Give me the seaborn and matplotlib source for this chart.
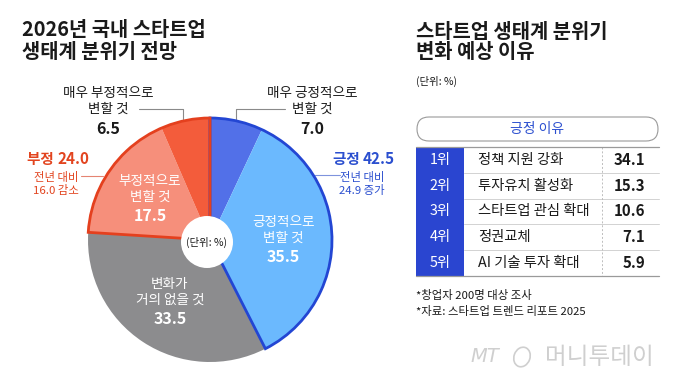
import matplotlib
matplotlib.use("Agg")
import matplotlib.pyplot as plt
import seaborn as sns
import numpy as np
from matplotlib.patches import Rectangle, FancyBboxPatch, Circle, Ellipse

sns.set_theme(style="white")
plt.rcParams['font.family'] = ['Noto Sans CJK KR', 'DejaVu Sans']

# ---- data ----
pie_labels = ['매우 긍정적으로\n변할 것', '긍정적으로\n변할 것', '변화가\n거의 없을 것',
              '부정적으로\n변할 것', '매우 부정적으로\n변할 것']
pie_values = [7.0, 35.5, 33.5, 17.5, 6.5]
group_names = ['긍정', '변화 없음', '부정']
group_values = [42.5, 33.5, 24.0]
group_change = ['24.9 증가', '', '16.0 감소']
ranks = ['1위', '2위', '3위', '4위', '5위']
reasons = ['정책 지원 강화', '투자유치 활성화', '스타트업 관심 확대', '정권교체', 'AI 기술 투자 확대']
reason_values = [34.1, 15.3, 10.6, 7.1, 5.9]

# ---- style ----
pie_colors = ['#5270E8', '#6BB9FE', '#8C8C8E', '#F68F7B', '#F35C3B']
BLUE_OUT = '#2346D3'
RED_OUT = '#E4401E'
TABLE_BLUE = '#2A45D0'
DARK = '#1a1a1a'
MW = 'medium'

W, H = 680, 385
fig = plt.figure(figsize=(6.8, 3.85), dpi=100)
ax = fig.add_axes([0, 0, 1, 1])

def Y(y):
    return H - y

cx, cy, R = 210, Y(240), 122

wedges, _ = ax.pie(pie_values, colors=pie_colors, startangle=90, counterclock=False,
                   center=(cx, cy), radius=R, wedgeprops=dict(linewidth=0))

gw, _ = ax.pie(group_values, colors=['none'] * 3, startangle=90, counterclock=False,
               center=(cx, cy), radius=R, wedgeprops=dict(linewidth=2.0, fill=False))
gw[0].set_edgecolor(BLUE_OUT); gw[0].set_zorder(3)
gw[1].set_visible(False)
gw[2].set_edgecolor(RED_OUT); gw[2].set_zorder(4)
for w in gw:
    w.set_joinstyle('miter')

# hole
ax.add_patch(Circle((207, Y(242)), 26, facecolor='white', edgecolor='none', zorder=6))
ax.text(207, Y(242), '(단위: %)', ha='center', va='center', fontsize=7.5, color=DARK,
        fontweight=MW, zorder=7)

# inner labels for wedges 1..3
for i in [1, 2, 3]:
    w = wedges[i]
    mid = np.deg2rad((w.theta1 + w.theta2) / 2)
    x = cx + 0.6 * R * np.cos(mid)
    y = cy + 0.6 * R * np.sin(mid)
    ax.text(x, y + 9, pie_labels[i], ha='center', va='center', fontsize=9.8,
            color='white', linespacing=1.15, fontweight=MW, zorder=5)
    ax.text(x, y - 18, f'{pie_values[i]:.1f}', ha='center', va='center', fontsize=11.5,
            fontweight='bold', color='white', zorder=5)

# outer labels (very positive / very negative)
ax.text(108, Y(101), pie_labels[4], ha='center', va='center', fontsize=9.8,
        color=DARK, linespacing=1.15, fontweight=MW)
ax.text(108, Y(129), f'{pie_values[4]:.1f}', ha='center', va='center', fontsize=11.5,
        fontweight='bold', color=DARK)
ax.plot([139, 183, 183], [Y(109), Y(109), Y(119)], color='#8a8a8a', lw=0.8)

ax.text(312, Y(101), pie_labels[0], ha='center', va='center', fontsize=9.8,
        color=DARK, linespacing=1.15, fontweight=MW)
ax.text(312, Y(129), f'{pie_values[0]:.1f}', ha='center', va='center', fontsize=11.5,
        fontweight='bold', color=DARK)
ax.plot([285, 236, 236], [Y(109), Y(109), Y(119)], color='#8a8a8a', lw=0.8)

# group labels
NEG_COL = '#E2441F'
POS_COL = '#2B4FCF'
ax.text(57, Y(159), f'{group_names[2]} ', ha='right', va='center', fontsize=10.5,
        fontweight='bold', color=NEG_COL)
ax.text(57, Y(159), f'{group_values[2]:.1f}', ha='left', va='center', fontsize=11,
        fontweight='bold', color=NEG_COL)
ax.text(56, Y(184), '전년 대비\n' + group_change[2], ha='center', va='center', fontsize=8.2,
        color=NEG_COL, linespacing=1.25, fontweight=MW)
ax.plot([81, 103], [Y(176), Y(176)], color='#E58472', lw=0.8)

ax.text(363, Y(159), f'{group_names[0]} ', ha='right', va='center', fontsize=10.5,
        fontweight='bold', color=POS_COL)
ax.text(363, Y(159), f'{group_values[0]:.1f}', ha='left', va='center', fontsize=11,
        fontweight='bold', color=POS_COL)
ax.text(362, Y(184), '전년 대비\n' + group_change[0], ha='center', va='center', fontsize=8.2,
        color=POS_COL, linespacing=1.25, fontweight=MW)
ax.plot([315, 340], [Y(175), Y(175)], color='#7F93DD', lw=0.8)

# titles
for txt, x, y in [('2026년 국내 스타트업', 22, 30), ('생태계 분위기 전망', 22, 52),
                  ('스타트업 생태계 분위기', 416, 31), ('변화 예상 이유', 416, 52)]:
    ax.text(x, Y(y), txt, ha='left', va='center', fontsize=14.3, fontweight='bold', color=DARK)
ax.text(416, Y(81), '(단위: %)', ha='left', va='center', fontsize=7.5, color=DARK, fontweight=MW)

# table header box
ax.add_patch(FancyBboxPatch((417, Y(141)), 241, 24,
                            boxstyle='round,pad=0,rounding_size=12',
                            facecolor='white', edgecolor='#9a9a9a', lw=0.8))
ax.text(537, Y(129), '긍정 이유', ha='center', va='center', fontsize=10, color=POS_COL,
        fontweight=MW)

# table
top, rh = 147, 25.8
left, blue_w, right = 416, 48, 659
n = len(ranks)
ax.add_patch(Rectangle((left, Y(top + rh * n)), blue_w, rh * n, facecolor=TABLE_BLUE,
                       edgecolor='none', zorder=2))
for i in range(n):
    yc = top + rh * (i + 0.5)
    ax.text(left + blue_w / 2, Y(yc), ranks[i], ha='center', va='center', fontsize=10.3,
            color='white', fontweight=MW, zorder=3)
    ax.text(478, Y(yc), reasons[i], ha='left', va='center', fontsize=10.3, color=DARK,
            fontweight=MW)
    ax.text(645, Y(yc), f'{reason_values[i]:.1f}', ha='right', va='center', fontsize=10.8,
            fontweight='bold', color=DARK)
    if i > 0:
        ax.plot([left + blue_w, right], [Y(top + rh * i), Y(top + rh * i)],
                color='#d2d2d2', lw=0.7)
ax.plot([left, right], [Y(top), Y(top)], color='#9a9a9a', lw=0.9, zorder=3)
ax.plot([left, right], [Y(top + rh * n), Y(top + rh * n)], color='#9a9a9a', lw=0.9, zorder=3)
ax.plot([602, 602], [Y(top), Y(top + rh * n)], color='#bdbdbd', lw=0.7, ls=(0, (2, 2)))

# footnotes
ax.text(416, Y(296), '*창업자 200명 대상 조사', ha='left', va='center', fontsize=8.2,
        color=DARK, fontweight=MW)
ax.text(416, Y(311), '*자료: 스타트업 트렌드 리포트 2025', ha='left', va='center', fontsize=8.2,
        color=DARK, fontweight=MW)

# watermark
ax.text(470, Y(357), 'MT', ha='left', va='center', fontsize=14, style='italic',
        color='#cfcfcf', family=['DejaVu Sans'])
ax.add_patch(Ellipse((522, Y(357)), 16, 20, angle=-20, fill=False,
                     edgecolor='#cfcfcf', lw=1.2))
ax.text(545, Y(357), '머니투데이', ha='left', va='center', fontsize=17, fontweight='light',
        color='#cfcfcf')

ax.set_xlim(0, W)
ax.set_ylim(0, H)
ax.set_aspect('auto')
ax.axis('off')

fig.savefig('out.png', dpi=100, facecolor='white')
